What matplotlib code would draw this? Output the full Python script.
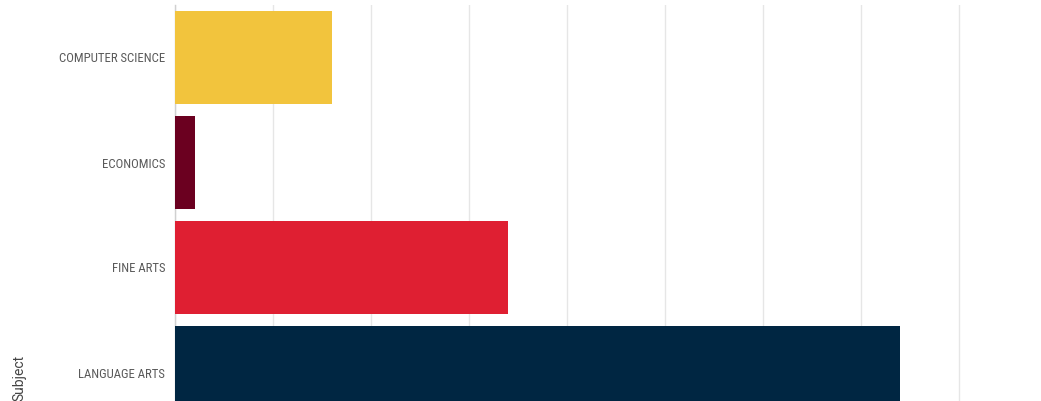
import matplotlib
matplotlib.use("Agg")
import matplotlib.pyplot as plt

subjects = ["COMPUTER SCIENCE", "ECONOMICS", "FINE ARTS", "LANGUAGE ARTS"]
counts = [16, 2, 34, 74]
colors = ["#F2C43D", "#6B0020", "#DF1F32", "#002642"]
xticks = [0, 10, 20, 30, 40, 50, 60, 70, 80]

W, H = 1041, 401
fig = plt.figure(figsize=(W / 100, H / 100), dpi=100)

# axes run past the bottom edge of the figure
left, right = 175, 1010
top, band = 5, 105
n = len(subjects)
bottom = top + n * band
ax = fig.add_axes([left / W, 1 - bottom / H, (right - left) / W, (bottom - top) / H])

ypos = list(range(n))
ax.barh(ypos, counts, height=0.895, color=colors, zorder=3)

ax.set_ylim(n - 0.5, -0.5)
ax.set_xlim(0, 85.2)
ax.set_xticks(xticks)
ax.set_yticks(ypos)
ax.set_yticklabels(subjects, fontsize=9.2, color="#5a5a5a",
                   family=["Roboto Condensed", "Liberation Sans Narrow", "DejaVu Sans"])
ax.tick_params(axis="y", length=0, pad=7)
ax.tick_params(axis="x", length=0, labelbottom=False)
ax.grid(axis="x", color="#e6e6e6", linewidth=1, zorder=0)
for s in ["top", "right", "bottom"]:
    ax.spines[s].set_visible(False)
ax.spines["left"].set_color("#d0d0d0")
ax.spines["left"].set_linewidth(1)

ax.set_ylabel("Subject", fontsize=10, color="#444444", family="Roboto")
ax.yaxis.set_label_coords(-149 / (right - left), 1 - (378 - top) / (bottom - top))

fig.savefig("out.png", dpi=100)
